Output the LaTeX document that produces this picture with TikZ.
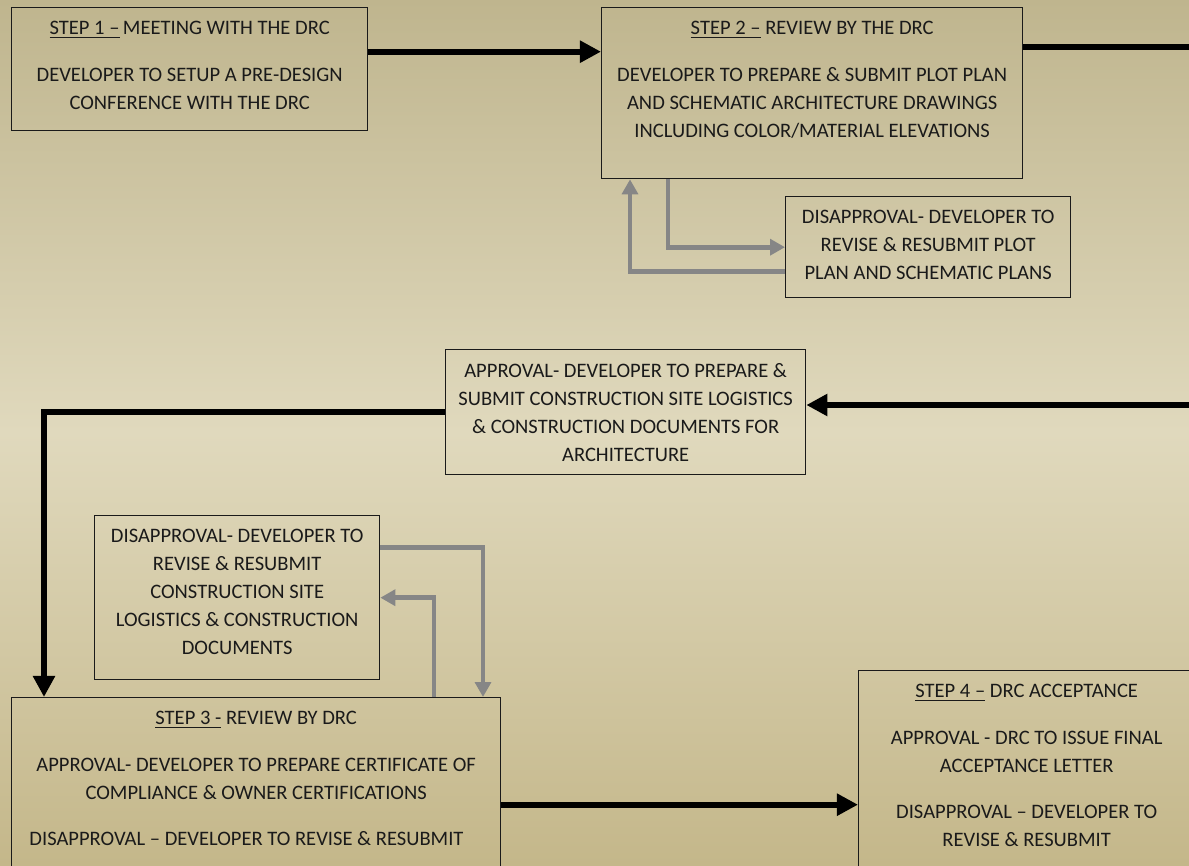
\documentclass[tikz,border=0pt]{standalone}
\usepackage{fontspec}
\setmainfont{Carlito}
\usepackage{xcolor}
\usepackage{tikz}
\usetikzlibrary{calc, positioning, arrows.meta}

\definecolor{bgtop}{HTML}{BFB58E}
\definecolor{bgmid}{HTML}{E0D9BD}
\definecolor{bgbot}{HTML}{C4B78A}
\definecolor{inkdark}{HTML}{1A1A1A}
\definecolor{loopgray}{HTML}{868686}

\tikzset{
    stagebox/.style={draw=inkdark, line width=0.8pt, rectangle, inner sep=0pt, anchor=north west},
    stagetext/.style={inner sep=0pt, align=center, text=inkdark,
        font=\fontsize{11.7pt}{15.9pt}\selectfont},
    mainflow/.style={line width=3.4pt, black, -{Triangle[length=12pt,width=12pt]}},
    mainline/.style={line width=3.4pt, black},
    loopflow/.style={line width=2.8pt, loopgray, -{Triangle[length=8.5pt,width=9pt]}}
}

\begin{document}
\begin{tikzpicture}[x=0.02cm, y=-0.02cm]

    % =================================================================
    % 1. NEN VA KHUNG HINH
    % =================================================================
    \useasboundingbox (0,0) rectangle (1189,865);
    \fill[top color=bgtop, bottom color=bgbot, middle color=bgmid] (0,0) rectangle (1189,865);

    % Dau ra ngoai mep phai
    \coordinate (OutTop) at (1200,46);
    \coordinate (InMid) at (1200,405);

    % =================================================================
    % 2. CAC KHUNG BUOC
    % =================================================================
    \node[stagebox, minimum width=7.12cm, minimum height=2.46cm] (step1) at (11,7) {};
    \node[stagebox, minimum width=8.42cm, minimum height=3.42cm] (step2) at (601,7) {};
    \node[stagebox, minimum width=5.70cm, minimum height=2.02cm] (disap1) at (785,196) {};
    \node[stagebox, minimum width=7.20cm, minimum height=2.50cm] (approv) at (445,349) {};
    \node[stagebox, minimum width=5.70cm, minimum height=3.28cm] (disap2) at (94,515) {};
    \node[stagebox, minimum width=9.78cm, minimum height=3.80cm] (step3) at (11,697) {};
    \node[stagebox, minimum width=6.72cm, minimum height=4.40cm] (step4) at (858,670) {};

    % =================================================================
    % 3. CHU TRONG KHUNG
    % =================================================================
    \node[stagetext, below=7.9pt of step1.north] (step1text)
        {\underline{STEP 1 –}\,MEETING WITH THE DRC\\[10.7pt]
         DEVELOPER TO SETUP A PRE-DESIGN\\ CONFERENCE WITH THE DRC};
    \node[stagetext, below=7.9pt of step2.north] (step2text)
        {\underline{STEP 2 –} REVIEW BY THE DRC\\[10.7pt]
         DEVELOPER TO PREPARE \& SUBMIT PLOT PLAN\\
         AND SCHEMATIC ARCHITECTURE DRAWINGS\\
         INCLUDING COLOR/MATERIAL ELEVATIONS};
    \node[stagetext, below=7.9pt of disap1.north] (disap1text)
        {DISAPPROVAL- DEVELOPER TO\\ REVISE \& RESUBMIT PLOT\\ PLAN AND SCHEMATIC PLANS};
    \node[stagetext, below=7.9pt of approv.north] (approvtext)
        {APPROVAL- DEVELOPER TO PREPARE \&\\ SUBMIT CONSTRUCTION SITE LOGISTICS\\
         \& CONSTRUCTION DOCUMENTS FOR\\ ARCHITECTURE};
    \node[stagetext, below=7.9pt of disap2.north] (disap2text)
        {DISAPPROVAL- DEVELOPER TO\\ REVISE \& RESUBMIT\\ CONSTRUCTION SITE\\
         LOGISTICS \& CONSTRUCTION\\ DOCUMENTS};
    \node[stagetext, below=7.9pt of step3.north] (step3text)
        {\underline{STEP 3 -} REVIEW BY DRC\\[10.7pt]
         APPROVAL- DEVELOPER TO PREPARE CERTIFICATE OF\\
         COMPLIANCE \& OWNER CERTIFICATIONS\\[10.7pt]
         DISAPPROVAL – DEVELOPER TO REVISE \& RESUBMIT\hspace*{11pt}};
    \node[stagetext, below=7.9pt of step4.north] (step4text)
        {\underline{STEP 4 –} DRC ACCEPTANCE\\[10.7pt]
         APPROVAL - DRC TO ISSUE FINAL\\ ACCEPTANCE LETTER\\[10.7pt]
         DISAPPROVAL – DEVELOPER TO\\ REVISE \& RESUBMIT};

    % =================================================================
    % 4. MUI TEN CHINH (DEN)
    % =================================================================
    \draw[mainflow] ($(step1.east)+(0,-17.5)$) coordinate (s1out) -- (s1out -| step2.west);
    \draw[mainline] ($(step2.east)+(0,-46.5)$) coordinate (s2out) -- (s2out -| OutTop);
    \draw[mainflow] (InMid) -- (InMid -| approv.east);
    \draw[mainflow] (approv.west) -| ($(step3.north west)+(33,0)$);
    \draw[mainflow] ($(step3.east)+(0,12)$) coordinate (s3out) -- (s3out -| step4.west);

    % =================================================================
    % 5. VONG LAP XAM (KHONG DUYET)
    % =================================================================
    \draw[loopflow] ($(step2.south west)+(67,0)$) |- (disap1.west);
    \draw[loopflow] ($(disap1.west)+(0,24.5)$) -| ($(step2.south west)+(29,0)$);
    \draw[loopflow] ($(disap2.east)+(0,-50)$) -| ($(step3.north west)+(472,0)$);
    \draw[loopflow] ($(step3.north west)+(423,0)$) |- (disap2.east);

\end{tikzpicture}
\end{document}
